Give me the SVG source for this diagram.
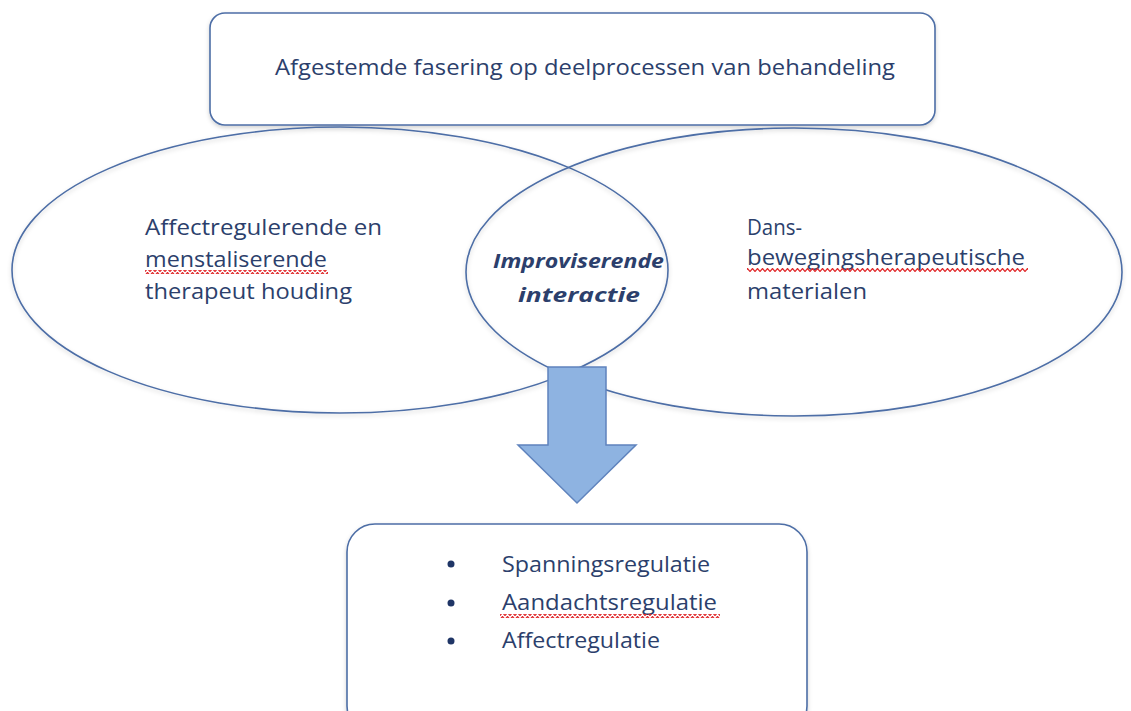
<svg xmlns="http://www.w3.org/2000/svg" width="1131" height="711" viewBox="0 0 1131 711">
  <defs>
    <style>
      .shape { fill: none; stroke: #4d6ea6; stroke-width: 1.6; }
      .box { fill: #ffffff; stroke: #4d6ea6; stroke-width: 1.6; }
      .t { font-family: "Open Sans", "Noto Sans", "Liberation Sans", sans-serif; font-size: 21px; fill: #2c3f6c; }
      .bi { font-weight: bold; font-style: italic; font-size: 20px; }
      .bullet { fill: #1f3566; }
      .arrow { fill: #8eb3e1; stroke: #5f83bd; stroke-width: 1.5; }
      .wave { fill: url(#wave); }
    </style>
    <pattern id="wave" x="0" y="0" width="5" height="4" patternUnits="userSpaceOnUse">
      <path d="M-1.25,2 L0,3.5 L2.5,0.5 L5,3.5 L6.25,2" fill="none" stroke="#e0282a" stroke-width="1.2"/>
    </pattern>
    <filter id="sh" x="-5%" y="-5%" width="110%" height="115%">
      <feDropShadow dx="0" dy="2" stdDeviation="2" flood-color="#000" flood-opacity="0.18"/>
    </filter>
  </defs>
  <rect width="1131" height="711" fill="#ffffff"/>

  <g id="top-box">
    <rect class="box" x="210" y="13" width="725" height="112" rx="15" filter="url(#sh)"/>
    <text class="t" x="275" y="75" textLength="620" lengthAdjust="spacingAndGlyphs">Afgestemde fasering op deelprocessen van behandeling</text>
  </g>

  <g id="left-ellipse">
    <ellipse class="shape" cx="340" cy="270" rx="328" ry="143" filter="url(#sh)"/>
    <text class="t" x="145" y="235" textLength="237" lengthAdjust="spacingAndGlyphs">Affectregulerende en</text>
    <text class="t" x="145" y="267" textLength="182" lengthAdjust="spacingAndGlyphs">menstaliserende</text>
    <rect class="wave" x="145" y="270" width="183" height="4"/>
    <text class="t" x="145" y="299" textLength="207" lengthAdjust="spacingAndGlyphs">therapeut houding</text>
  </g>

  <g id="right-ellipse">
    <ellipse class="shape" cx="794" cy="272" rx="328" ry="144" filter="url(#sh)"/>
    <text class="t" x="747" y="235" textLength="55" lengthAdjust="spacingAndGlyphs">Dans-</text>
    <text class="t" x="747" y="265" textLength="278" lengthAdjust="spacingAndGlyphs">bewegingsherapeutische</text>
    <rect class="wave" x="747" y="268" width="281" height="4"/>
    <text class="t" x="747" y="299" textLength="120" lengthAdjust="spacingAndGlyphs">materialen</text>
  </g>

  <g id="overlap">
    <text class="t bi" x="493" y="268" textLength="171" lengthAdjust="spacingAndGlyphs">Improviserende</text>
    <text class="t bi" x="518" y="302" textLength="122" lengthAdjust="spacingAndGlyphs">interactie</text>
  </g>

  <g id="connectors">
    <path class="arrow" d="M548,367 L606,367 L606,445 L636,445 L577,503 L518,445 L548,445 Z"/>
  </g>

  <g id="bottom-box">
    <rect class="box" x="347" y="524" width="460" height="210" rx="28" filter="url(#sh)"/>
    <circle class="bullet" cx="451" cy="564" r="3.5"/>
    <circle class="bullet" cx="451" cy="603" r="3.5"/>
    <circle class="bullet" cx="451" cy="641" r="3.5"/>
    <text class="t" x="502" y="572" textLength="208" lengthAdjust="spacingAndGlyphs">Spanningsregulatie</text>
    <text class="t" x="502" y="610" textLength="215" lengthAdjust="spacingAndGlyphs">Aandachtsregulatie</text>
    <rect class="wave" x="500" y="614" width="220" height="4"/>
    <text class="t" x="502" y="648" textLength="158" lengthAdjust="spacingAndGlyphs">Affectregulatie</text>
  </g>
</svg>
